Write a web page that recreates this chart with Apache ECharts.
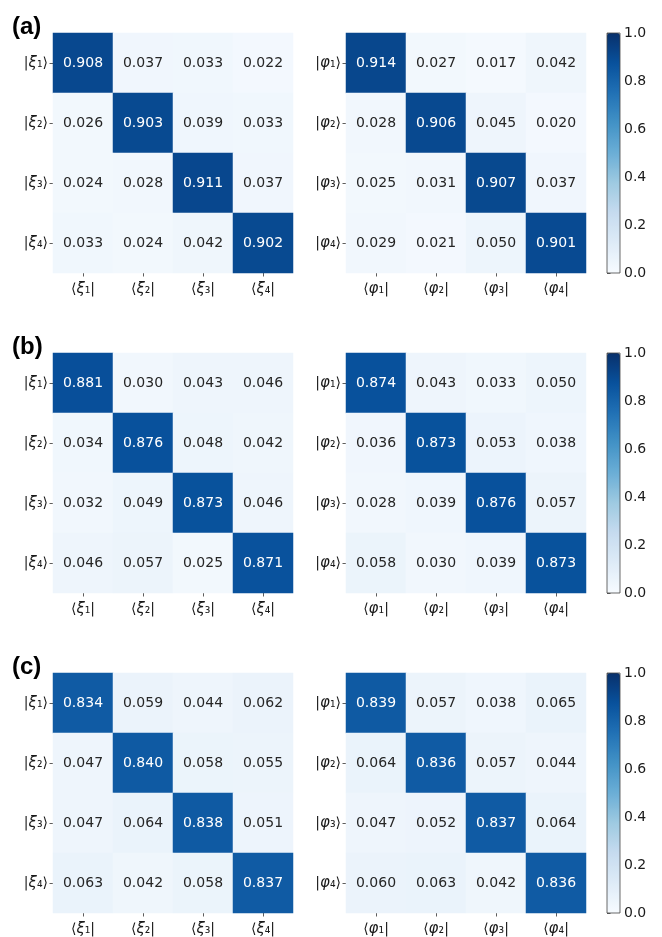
<!DOCTYPE html>
<html>
<head>
<meta charset="utf-8">
<script src="https://cdn.jsdelivr.net/npm/echarts@6/dist/echarts.min.js"></script>
<style>
  html, body { margin: 0; padding: 0; background: #fff; }
  #main { width: 662px; height: 937px; }
</style>
</head>
<body>
<div id="main"></div>
<script>
// fidelity matrices, rows = |.> , cols = <.|
const xiA = [[0.908,0.037,0.033,0.022],[0.026,0.903,0.039,0.033],[0.024,0.028,0.911,0.037],[0.033,0.024,0.042,0.902]]
const phiA = [[0.914,0.027,0.017,0.042],[0.028,0.906,0.045,0.020],[0.025,0.031,0.907,0.037],[0.029,0.021,0.050,0.901]]
const xiB = [[0.881,0.030,0.043,0.046],[0.034,0.876,0.048,0.042],[0.032,0.049,0.873,0.046],[0.046,0.057,0.025,0.871]]
const phiB = [[0.874,0.043,0.033,0.050],[0.036,0.873,0.053,0.038],[0.028,0.039,0.876,0.057],[0.058,0.030,0.039,0.873]]
const xiC = [[0.834,0.059,0.044,0.062],[0.047,0.840,0.058,0.055],[0.047,0.064,0.838,0.051],[0.063,0.042,0.058,0.837]]
const phiC = [[0.839,0.057,0.038,0.065],[0.064,0.836,0.057,0.044],[0.047,0.052,0.837,0.064],[0.060,0.063,0.042,0.836]]

const panelNames = ['(a)', '(b)', '(c)']
const subs = ['₁', '₂', '₃', '₄']
const colorTicks = [0, 0.2, 0.4, 0.6, 0.8, 1.0]
const blues = ['#f7fbff','#deebf7','#c6dbef','#9ecae1','#6baed6','#4292c6','#2171b5','#08519c','#08306b']

const FONT = 'DejaVu Sans'
const rows = [[xiA, phiA], [xiB, phiB], [xiC, phiC]]
const symbols = ['ξ', 'φ']

const chart = echarts.init(document.getElementById('main'), null, {renderer: 'canvas'})

var grids = [], xAxes = [], yAxes = [], series = [], visualMaps = [], graphics = []
var rich = {
  i: {fontStyle: 'italic', fontFamily: FONT, fontSize: 15, color: '#1a1a1a'},
  n: {fontFamily: FONT, fontSize: 14, color: '#1a1a1a'}
}

rows.forEach(function (pair, r) {
  var top = 33 + 320 * r
  graphics.push({
    type: 'text', left: 12, top: top - 18,
    style: {text: panelNames[r], font: 'bold 24px "Liberation Sans"', fill: '#000'}
  })
  pair.forEach(function (mat, k) {
    var gi = grids.length
    grids.push({left: k === 0 ? 53 : 346, top: top, width: 240, height: 240})
    var s = symbols[k]
    xAxes.push({
      type: 'category', gridIndex: gi,
      data: subs.map(function (d) { return '{n|⟨}{i|' + s + '}{n|' + d + '|}' }),
      axisLine: {show: false},
      axisTick: {show: true, alignWithLabel: true, interval: 0, length: 3.5, lineStyle: {color: '#333', width: 0.8}},
      axisLabel: {margin: 9, interval: 0, rich: rich},
      splitArea: {show: false}, splitLine: {show: false}
    })
    yAxes.push({
      type: 'category', gridIndex: gi, inverse: true,
      data: subs.map(function (d) { return '{n||}{i|' + s + '}{n|' + d + '⟩}' }),
      axisLine: {show: false},
      axisTick: {show: true, alignWithLabel: true, interval: 0, length: 3.5, lineStyle: {color: '#333', width: 0.8}},
      axisLabel: {margin: 5, interval: 0, rich: rich},
      splitArea: {show: false}, splitLine: {show: false}
    })
    var data = []
    mat.forEach(function (row, y) {
      row.forEach(function (v, x) {
        data.push({value: [x, y, v], label: {color: v > 0.5 ? '#ffffff' : '#262626'}})
      })
    })
    series.push({
      type: 'heatmap', xAxisIndex: gi, yAxisIndex: gi,
      data: data,
      label: {
        show: true, fontFamily: FONT, fontSize: 14,
        formatter: function (p) { return p.value[2].toFixed(3) }
      },
      itemStyle: {borderWidth: 0},
      emphasis: {disabled: true}
    })
  })
  // colorbar axis
  var ci = grids.length
  grids.push({left: 607, top: top, width: 13, height: 240, show: true,
    borderColor: '#444', borderWidth: 0.8, backgroundColor: 'transparent', z: 5})
  xAxes.push({type: 'value', gridIndex: ci, show: false, min: 0, max: 1})
  yAxes.push({
    type: 'value', gridIndex: ci, position: 'right', min: 0, max: 1, interval: 0.2,
    axisLine: {show: false},
    axisTick: {show: true, length: 3.5, lineStyle: {color: '#333', width: 0.8}},
    splitLine: {show: false},
    axisLabel: {fontFamily: FONT, fontSize: 14, color: '#1a1a1a', margin: 4,
      formatter: function (v) { return colorTicks.indexOf(Math.round(v * 10) / 10) >= 0 ? v.toFixed(1) : '' }}
  })
  visualMaps.push({
    type: 'continuous', min: 0, max: 1, calculable: false, show: true,
    seriesIndex: [2 * r, 2 * r + 1],
    left: 607, top: top, itemWidth: 13, itemHeight: 240, padding: 0,
    text: null, hoverLink: false,
    inRange: {color: blues}
  })
})

chart.setOption({
  animation: false,
  backgroundColor: '#fff',
  textStyle: {fontFamily: FONT},
  grid: grids,
  xAxis: xAxes,
  yAxis: yAxes,
  visualMap: visualMaps,
  series: series,
  graphic: graphics
})
</script>
</body>
</html>
